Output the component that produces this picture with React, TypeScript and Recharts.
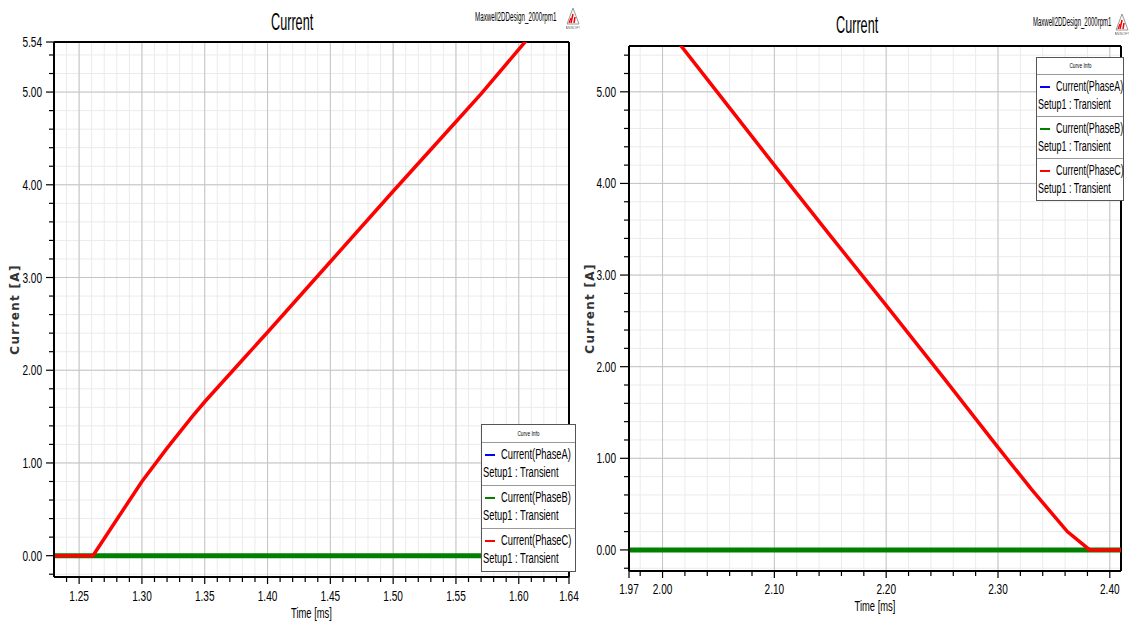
import React from 'react';
import { LineChart, Line, XAxis, YAxis, CartesianGrid, Legend } from 'recharts';

const FONT = '"Liberation Sans", Arial, sans-serif';
// all plot text is horizontally squeezed
const TICK_SX = 0.72;

// rising edge of PhaseC (left plot)
const riseTime = [1.23, 1.261, 1.28, 1.3, 1.32, 1.34, 1.35, 1.38, 1.4, 1.45, 1.5, 1.55, 1.57, 1.6, 1.62, 1.64];
const risePhaseA = [0, 0, 0, 0, 0, 0, 0, 0, 0, 0, 0, 0, 0, 0, 0, 0];
const risePhaseB = [0, 0, 0, 0, 0, 0, 0, 0, 0, 0, 0, 0, 0, 0, 0, 0];
const risePhaseC = [0, 0, 0.39, 0.8, 1.16, 1.5, 1.66, 2.11, 2.41, 3.17, 3.93, 4.68, 4.98, 5.46, 5.78, 6.1];
const riseXLabels = [1.25, 1.3, 1.35, 1.4, 1.45, 1.5, 1.55, 1.6, 1.64];
const riseXMajorGrid = [1.25, 1.3, 1.35, 1.4, 1.45, 1.5, 1.55, 1.6];
const riseYLabels = [0, 1, 2, 3, 4, 5, 5.54];

// falling edge of PhaseC (right plot)
const fallTime = [1.97, 2.0, 2.05, 2.1, 2.15, 2.2, 2.25, 2.3, 2.33, 2.362, 2.382, 2.41];
const fallPhaseA = [0, 0, 0, 0, 0, 0, 0, 0, 0, 0, 0, 0];
const fallPhaseB = [0, 0, 0, 0, 0, 0, 0, 0, 0, 0, 0, 0];
const fallPhaseC = [6.22, 5.76, 4.98, 4.2, 3.43, 2.67, 1.9, 1.12, 0.66, 0.2, 0, 0];
const fallXLabels = [1.97, 2.0, 2.1, 2.2, 2.3, 2.4];
const fallXMajorGrid = [2.0, 2.1, 2.2, 2.3, 2.4];
const fallYLabels = [0, 1, 2, 3, 4, 5];

const yMajorGrid = [0, 1, 2, 3, 4, 5];
const seriesNames = ['Current(PhaseA)', 'Current(PhaseB)', 'Current(PhaseC)'];

const range = (start: number, stop: number, step: number) => {
  const out: number[] = [];
  for (let v = start; v <= stop + step / 2; v += step) out.push(Math.round(v * 1000) / 1000);
  return out;
};
const near = (a: number, b: number) => Math.abs(a - b) < 1e-6;
const has = (list: number[], v: number) => list.some(d => near(d, v));
const merge = (a: number[], b: number[]) =>
  [...a, ...b.filter(v => !has(a, v))].sort((p, q) => p - q);

const buildRows = (t: number[], a: number[], b: number[], c: number[]) =>
  t.map((time, i) => ({ t: time, a: a[i], b: b[i], c: c[i] }));

const makeYTick = (labels: number[], majorLen: number, gap: number) => (props: any) => {
  const { x, y, payload } = props;
  const v = payload.value as number;
  const major = has(labels, v);
  return (
    <g>
      <line x1={x - (major ? majorLen : 5)} x2={x} y1={y} y2={y} stroke="#000" strokeWidth={1.2} />
      {major && (
        <text
          transform={`translate(${x - gap},${y}) scale(${TICK_SX},1)`}
          textAnchor="end"
          dy="0.36em"
          fontSize={14}
          fontFamily={FONT}
          fill="#000"
        >
          {v.toFixed(2)}
        </text>
      )}
    </g>
  );
};

const makeXTick = (labels: number[], drop: number) => (props: any) => {
  const { x, y, payload } = props;
  const v = payload.value as number;
  const major = has(labels, v);
  return (
    <g>
      <line x1={x} x2={x} y1={y} y2={y + (major ? 7 : 5)} stroke="#000" strokeWidth={1.2} />
      {major && (
        <text
          transform={`translate(${x},${y + drop}) scale(${TICK_SX},1)`}
          textAnchor="middle"
          dy="0.36em"
          fontSize={14}
          fontFamily={FONT}
          fill="#000"
        >
          {v.toFixed(2)}
        </text>
      )}
    </g>
  );
};

const Squeeze: React.FC<{ scale: number; children: React.ReactNode; origin?: string }> = ({ scale, children, origin }) => (
  <span style={{ display: 'inline-block', whiteSpace: 'nowrap', transform: `scaleX(${scale})`, transformOrigin: origin || 'left center' }}>
    {children}
  </span>
);

const CurveInfo = ({ payload, width, head, row, sx }: any) => (
  <div style={{ width, background: '#fff', border: '1px solid #555', fontFamily: FONT, color: '#000', boxSizing: 'border-box' }}>
    <div style={{ height: head, lineHeight: `${head}px`, fontSize: 8, textAlign: 'center', borderBottom: '1px solid #999' }}>
      <Squeeze scale={0.6} origin="center">Curve Info</Squeeze>
    </div>
    {(payload || []).map((p: any, i: number) => (
      <div key={p.value} style={{ height: row, position: 'relative', borderTop: i ? '1px solid #999' : 'none', fontSize: 14 }}>
        <div style={{ position: 'absolute', left: 3, top: 11, width: 10, height: 2, background: p.color }} />
        <div style={{ position: 'absolute', left: 19, top: 2, lineHeight: '18px' }}>
          <Squeeze scale={sx}>{p.value}</Squeeze>
        </div>
        <div style={{ position: 'absolute', left: 1, top: 20, lineHeight: '18px' }}>
          <Squeeze scale={sx}>Setup1 : Transient</Squeeze>
        </div>
      </div>
    ))}
  </div>
);

const AnsoftLogo: React.FC<{ left: number; top: number }> = ({ left, top }) => (
  <svg style={{ position: 'absolute', left, top }} width={14} height={24}>
    <polygon points="7,1 13,17 1,17" fill="none" stroke="#999" strokeWidth={1} />
    <line x1={5} y1={16} x2={7} y2={7} stroke="#e00" strokeWidth={1.5} />
    <line x1={8} y1={16} x2={9} y2={10} stroke="#e00" strokeWidth={1.5} />
    <line x1={3} y1={16} x2={5} y2={11} stroke="#e00" strokeWidth={1.2} />
    <text x={7} y={22} fontSize={4} textAnchor="middle" fontFamily={FONT} fill="#666">ANSOFT</text>
  </svg>
);

interface PlotProps {
  rows: any[];
  width: number;
  height: number;
  top: number;
  right: number;
  xAxisHeight: number;
  xDomain: [number, number];
  yDomain: [number, number];
  xTicks: number[];
  xLabels: number[];
  xMinor: number[];
  xMajor: number[];
  yTicks: number[];
  yLabels: number[];
  yMinor: number[];
  yMajorLen: number;
  yGap: number;
  xDrop: number;
  xTitleDrop: number;
  legendLeft: number;
  legendTop: number;
  legendWidth: number;
  legendHead: number;
  legendRow: number;
  legendSx: number;
}

const CurrentPlot: React.FC<PlotProps> = p => (
  <LineChart width={p.width} height={p.height} data={p.rows} margin={{ top: p.top, right: p.right, bottom: 0, left: 0 }}>
    <CartesianGrid stroke="#ebebeb" horizontalValues={p.yMinor} verticalValues={p.xMinor} />
    <CartesianGrid stroke="#c4c4c4" horizontalValues={yMajorGrid} verticalValues={p.xMajor} />
    <CartesianGrid stroke="#000" strokeWidth={2} horizontalValues={[p.yDomain[1]]} verticalValues={[p.xDomain[1]]} />
    <XAxis
      type="number"
      dataKey="t"
      domain={p.xDomain}
      allowDataOverflow
      ticks={p.xTicks}
      interval={0}
      height={p.xAxisHeight}
      tickSize={0}
      tickMargin={0}
      tickLine={false}
      axisLine={{ stroke: '#000', strokeWidth: 2 }}
      tick={makeXTick(p.xLabels, p.xDrop)}
      label={{
        content: (lp: any) => {
          const vb = lp.viewBox;
          return (
            <text
              transform={`translate(${vb.x + vb.width / 2},${vb.y + p.xTitleDrop}) scale(0.67,1)`}
              textAnchor="middle"
              dy="0.36em"
              fontSize={14}
              fontFamily={FONT}
            >
              Time [ms]
            </text>
          );
        },
      }}
    />
    <YAxis
      type="number"
      domain={p.yDomain}
      allowDataOverflow
      ticks={p.yTicks}
      interval={0}
      width={54}
      tickSize={0}
      tickMargin={0}
      tickLine={false}
      axisLine={{ stroke: '#000', strokeWidth: 2 }}
      tick={makeYTick(p.yLabels, p.yMajorLen, p.yGap)}
      label={{
        content: (lp: any) => {
          const vb = lp.viewBox;
          const cy = vb.y + vb.height / 2;
          return (
            <text
              transform={`translate(${vb.x + 15},${cy}) rotate(-90)`}
              textAnchor="middle"
              dy="0.36em"
              fontSize={12}
              fontWeight="bold"
              letterSpacing={1.3}
              fontFamily='"DejaVu Sans", Arial, sans-serif'
              fill="#333"
            >
              Current [A]
            </text>
          );
        },
      }}
    />
    <Legend
      layout="horizontal"
      verticalAlign="middle"
      align="center"
      wrapperStyle={{ left: p.legendLeft, top: p.legendTop, width: p.legendWidth }}
      content={(lp: any) => (
        <CurveInfo payload={lp.payload} width={p.legendWidth} head={p.legendHead} row={p.legendRow} sx={p.legendSx} />
      )}
    />
    <Line type="linear" dataKey="a" name={seriesNames[0]} stroke="#0000ff" strokeWidth={2.5} dot={false} isAnimationActive={false} />
    <Line type="linear" dataKey="b" name={seriesNames[1]} stroke="#008000" strokeWidth={5} dot={false} isAnimationActive={false} />
    <Line type="linear" dataKey="c" name={seriesNames[2]} stroke="#ff0000" strokeWidth={3.5} dot={false} isAnimationActive={false} />
  </LineChart>
);

const titleStyle: React.CSSProperties = {
  position: 'absolute',
  fontFamily: FONT,
  fontSize: 23,
  lineHeight: '24px',
  color: '#000',
  whiteSpace: 'nowrap',
};
const designStyle: React.CSSProperties = {
  position: 'absolute',
  fontFamily: FONT,
  fontSize: 12,
  lineHeight: '12px',
  color: '#000',
  whiteSpace: 'nowrap',
};

const App: React.FC = () => {
  const yMinor = range(-0.2, 5.4, 0.2);
  const riseXMinor = range(1.24, 1.63, 0.01);
  const fallXMinor = range(1.98, 2.4, 0.02);

  return (
    <div style={{ position: 'fixed', left: 0, top: 0, width: 1130, height: 623, background: '#fff', overflow: 'hidden' }}>
      <div style={{ position: 'absolute', left: 0, top: 0 }}>
        <CurrentPlot
          rows={buildRows(riseTime, risePhaseA, risePhaseB, risePhaseC)}
          width={580}
          height={623}
          top={42}
          right={11}
          xAxisHeight={46}
          xDomain={[1.23, 1.64]}
          yDomain={[-0.23, 5.54]}
          xTicks={merge(riseXLabels, riseXMinor)}
          xLabels={riseXLabels}
          xMinor={riseXMinor}
          xMajor={riseXMajorGrid}
          yTicks={merge(riseYLabels, yMinor)}
          yLabels={riseYLabels}
          yMinor={yMinor}
          yMajorLen={8}
          yGap={12}
          xDrop={19}
          xTitleDrop={36}
          legendLeft={481}
          legendTop={424}
          legendWidth={95}
          legendHead={17}
          legendRow={42}
          legendSx={0.665}
        />
      </div>
      <div style={{ position: 'absolute', left: 575, top: 0 }}>
        <CurrentPlot
          rows={buildRows(fallTime, fallPhaseA, fallPhaseB, fallPhaseC)}
          width={555}
          height={623}
          top={46}
          right={9}
          xAxisHeight={52}
          xDomain={[1.97, 2.41]}
          yDomain={[-0.23, 5.5]}
          xTicks={merge(fallXLabels, fallXMinor)}
          xLabels={fallXLabels}
          xMinor={fallXMinor}
          xMajor={fallXMajorGrid}
          yTicks={merge(fallYLabels, yMinor)}
          yLabels={fallYLabels}
          yMinor={yMinor}
          yMajorLen={9}
          yGap={13}
          xDrop={18}
          xTitleDrop={35}
          legendLeft={461}
          legendTop={57}
          legendWidth={88}
          legendHead={16}
          legendRow={41}
          legendSx={0.64}
        />
      </div>

      <div style={{ ...titleStyle, left: 271, top: 10 }}>
        <Squeeze scale={0.55}>Current</Squeeze>
      </div>
      <div style={{ ...titleStyle, left: 836, top: 13 }}>
        <Squeeze scale={0.55}>Current</Squeeze>
      </div>
      <div style={{ ...designStyle, left: 475, top: 11 }}>
        <Squeeze scale={0.52}>Maxwell2DDesign_2000rpm1</Squeeze>
      </div>
      <div style={{ ...designStyle, left: 1033, top: 16 }}>
        <Squeeze scale={0.5}>Maxwell2DDesign_2000rpm1</Squeeze>
      </div>
      <AnsoftLogo left={566} top={7} />
      <AnsoftLogo left={1115} top={13} />
    </div>
  );
};

export default App;
